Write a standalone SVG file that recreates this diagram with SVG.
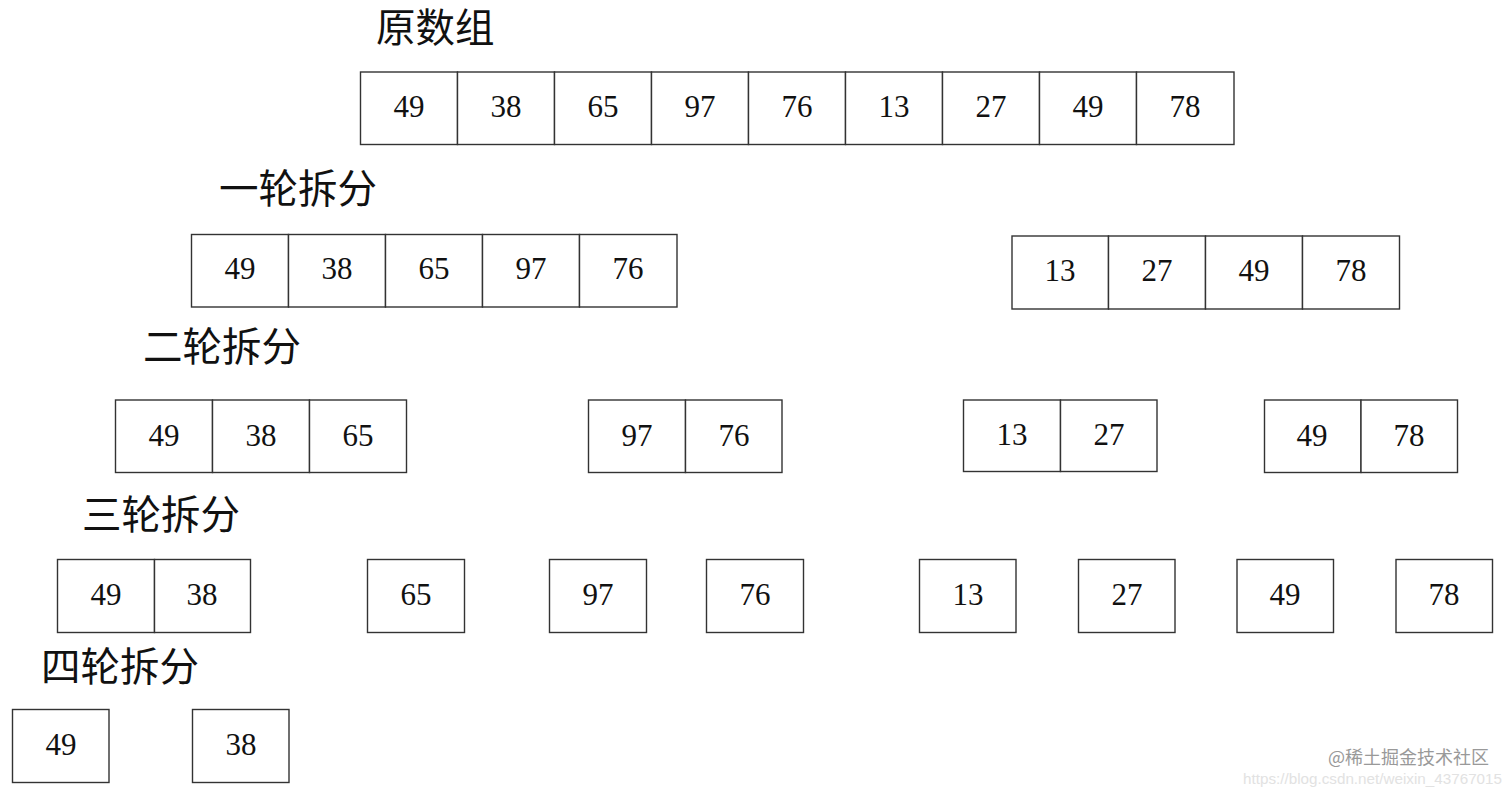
<svg xmlns="http://www.w3.org/2000/svg" width="1512" height="792" viewBox="0 0 1512 792">
<style>
.c{fill:#fff;stroke:#333;stroke-width:1.4}
.n{font-family:"Liberation Serif","Times New Roman",serif;font-size:31px;fill:#111;text-anchor:middle}
.h{font-family:"Noto Sans CJK SC","Noto Sans CJK JP",sans-serif;font-size:39.5px;fill:#111}
.w1{font-family:"Noto Sans CJK SC",sans-serif;font-size:18px;fill:#999}
.w2{font-family:"Liberation Sans","Noto Sans",sans-serif;font-size:15px;fill:#e2e2e2}
</style>
<rect width="1512" height="792" fill="#fff"/>
<g id="headings">
<text class="h" x="376" y="42">原数组</text>
<text class="h" x="219" y="203">一轮拆分</text>
<text class="h" x="143" y="361">二轮拆分</text>
<text class="h" x="82" y="529">三轮拆分</text>
<text class="h" x="41" y="681">四轮拆分</text>
</g>
<g id="row0">
<rect class="c" x="360.5" y="72" width="97" height="72.5"/><text class="n" x="409" y="117">49</text>
<rect class="c" x="457.5" y="72" width="97" height="72.5"/><text class="n" x="506" y="117">38</text>
<rect class="c" x="554.5" y="72" width="97" height="72.5"/><text class="n" x="603" y="117">65</text>
<rect class="c" x="651.5" y="72" width="97" height="72.5"/><text class="n" x="700" y="117">97</text>
<rect class="c" x="748.5" y="72" width="97" height="72.5"/><text class="n" x="797" y="117">76</text>
<rect class="c" x="845.5" y="72" width="97" height="72.5"/><text class="n" x="894" y="117">13</text>
<rect class="c" x="942.5" y="72" width="97" height="72.5"/><text class="n" x="991" y="117">27</text>
<rect class="c" x="1039.5" y="72" width="97" height="72.5"/><text class="n" x="1088" y="117">49</text>
<rect class="c" x="1136.5" y="72" width="97.5" height="72.5"/><text class="n" x="1185" y="117">78</text>
</g>
<g id="row1-left">
<rect class="c" x="191.5" y="234.5" width="97" height="72.5"/><text class="n" x="240" y="279">49</text>
<rect class="c" x="288.5" y="234.5" width="97" height="72.5"/><text class="n" x="337" y="279">38</text>
<rect class="c" x="385.5" y="234.5" width="97" height="72.5"/><text class="n" x="434" y="279">65</text>
<rect class="c" x="482.5" y="234.5" width="97" height="72.5"/><text class="n" x="531" y="279">97</text>
<rect class="c" x="579.5" y="234.5" width="97.5" height="72.5"/><text class="n" x="628" y="279">76</text>
</g>
<g id="row1-right">
<rect class="c" x="1012" y="236" width="96.5" height="73"/><text class="n" x="1060" y="281">13</text>
<rect class="c" x="1108.5" y="236" width="97" height="73"/><text class="n" x="1157" y="281">27</text>
<rect class="c" x="1205.5" y="236" width="97" height="73"/><text class="n" x="1254" y="281">49</text>
<rect class="c" x="1302.5" y="236" width="97" height="73"/><text class="n" x="1351" y="281">78</text>
</g>
<g id="row2-a">
<rect class="c" x="115.5" y="400" width="97" height="72.5"/><text class="n" x="164" y="446">49</text>
<rect class="c" x="212.5" y="400" width="97" height="72.5"/><text class="n" x="261" y="446">38</text>
<rect class="c" x="309.5" y="400" width="97" height="72.5"/><text class="n" x="358" y="446">65</text>
</g>
<g id="row2-b">
<rect class="c" x="588.5" y="400" width="97" height="72.5"/><text class="n" x="637" y="446">97</text>
<rect class="c" x="685.5" y="400" width="96.5" height="72.5"/><text class="n" x="734" y="446">76</text>
</g>
<g id="row2-c">
<rect class="c" x="963.5" y="400" width="97" height="71.5"/><text class="n" x="1012" y="445">13</text>
<rect class="c" x="1060.5" y="400" width="96.5" height="71.5"/><text class="n" x="1109" y="445">27</text>
</g>
<g id="row2-d">
<rect class="c" x="1264.5" y="400" width="96.5" height="72.5"/><text class="n" x="1312" y="446">49</text>
<rect class="c" x="1361" y="400" width="96.5" height="72.5"/><text class="n" x="1409" y="446">78</text>
</g>
<g id="row3-a">
<rect class="c" x="57.5" y="559.5" width="97" height="73"/><text class="n" x="106" y="605">49</text>
<rect class="c" x="154.5" y="559.5" width="96" height="73"/><text class="n" x="202" y="605">38</text>
</g>
<g id="row3-b"><rect class="c" x="367.5" y="559.5" width="97" height="73"/><text class="n" x="416" y="605">65</text></g>
<g id="row3-c"><rect class="c" x="549.5" y="559.5" width="97" height="73"/><text class="n" x="598" y="605">97</text></g>
<g id="row3-d"><rect class="c" x="706.5" y="559.5" width="97" height="73"/><text class="n" x="755" y="605">76</text></g>
<g id="row3-e"><rect class="c" x="919.5" y="559.5" width="96.5" height="73"/><text class="n" x="968" y="605">13</text></g>
<g id="row3-f"><rect class="c" x="1078.5" y="559.5" width="96.5" height="73"/><text class="n" x="1127" y="605">27</text></g>
<g id="row3-g"><rect class="c" x="1237" y="559.5" width="96.5" height="73"/><text class="n" x="1285" y="605">49</text></g>
<g id="row3-h"><rect class="c" x="1396" y="559.5" width="96.5" height="73"/><text class="n" x="1444" y="605">78</text></g>
<g id="row4-a"><rect class="c" x="12.5" y="709.5" width="96.5" height="73"/><text class="n" x="61" y="755">49</text></g>
<g id="row4-b"><rect class="c" x="192.5" y="709.5" width="96.5" height="73"/><text class="n" x="241" y="755">38</text></g>
<g id="connectors"></g>
<g id="watermark">
<text class="w1" x="1328" y="764">@稀土掘金技术社区</text>
<text class="w2" x="1243" y="784" textLength="259" lengthAdjust="spacingAndGlyphs">https://blog.csdn.net/weixin_43767015</text>
</g>
</svg>
